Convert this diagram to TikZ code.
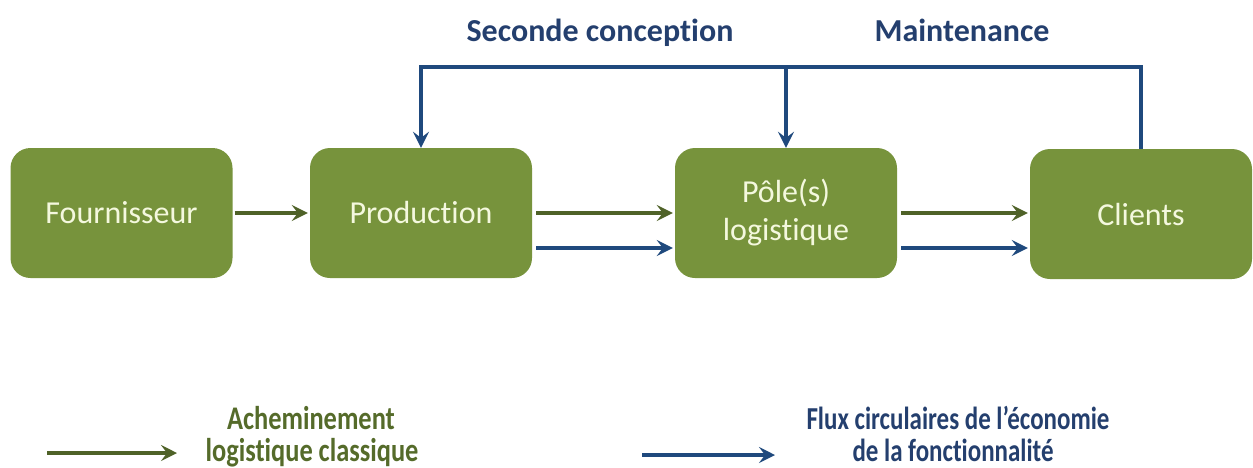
\documentclass[tikz,border=0pt]{standalone}
\usepackage{fontspec}
\setmainfont[Ligatures={TeX,NoCommon}]{Carlito}
\newfontfamily\legendfont[Ligatures={TeX,NoCommon},FakeStretch=0.8]{Carlito}
\newfontfamily\legendfontnarrow[Ligatures={TeX,NoCommon},FakeStretch=0.78]{Carlito}
\usetikzlibrary{arrows.meta,calc}
\definecolor{boxgreen}{HTML}{77933C}
\definecolor{boxtext}{HTML}{F4F8DE}
\definecolor{flowgreen}{HTML}{4F6228}
\definecolor{flowblue}{HTML}{1F497D}
\definecolor{labelblue}{HTML}{243F6E}
\definecolor{legendgreen}{HTML}{556B2A}
\tikzset{
  stage/.style={draw=none, fill=boxgreen, rounded corners=20pt,
    minimum width=222pt, minimum height=130pt, text=boxtext,
    align=center, font=\fontsize{32}{38}\selectfont},
  greenflow/.style={draw=flowgreen, line width=4pt,
    -{Stealth[length=16pt,width=16pt,inset=6pt]}},
  blueflow/.style={draw=flowblue, line width=4pt,
    -{Stealth[length=16pt,width=16pt,inset=6pt]}},
  toplabel/.style={anchor=base, text=labelblue, font=\fontsize{32}{38}\selectfont\bfseries},
  legendtext/.style={anchor=base, inner sep=0pt, font=\legendfont\fontsize{33}{38}\selectfont\bfseries},
  legendtextb/.style={anchor=base, inner sep=0pt, font=\legendfontnarrow\fontsize{32}{38}\selectfont\bfseries}
}
\begin{document}
\begin{tikzpicture}[x=1pt,y=-1pt]
  \useasboundingbox (0,0) rectangle (1253,467);

  % process stages
  \node[stage] (four) at (121.5,213) {Fournisseur};
  \node[stage] (prod) at (421,213) {Production};
  \node[stage] (pole) at (786,213) {Pôle(s)\\logistique};
  \node[stage] (cli)  at (1141,214) {Clients};

  % classic logistic flow
  \draw[greenflow, shorten <=2pt, shorten >=2pt] (four.east) -- (prod.west);
  \draw[greenflow, shorten <=4pt, shorten >=2pt] (prod.east) -- (pole.west);
  \draw[greenflow, shorten <=4pt, shorten >=2pt] (pole.east) -- (cli.west |- pole.east);

  % circular flows
  \draw[blueflow, shorten <=4pt, shorten >=2pt] ($(prod.east)+(0,35)$) -- ($(pole.west)+(0,35)$);
  \draw[blueflow, shorten <=4pt, shorten >=2pt] ($(pole.east)+(0,35)$) -- ($(cli.west |- pole.east)+(0,35)$);

  % return loop above the stages
  \coordinate (loop) at (0,67);
  \draw[blueflow] (cli.north) -- (cli.north |- loop) -- (prod.north |- loop) -- (prod.north);
  \draw[blueflow] (pole.north |- loop) -- (pole.north);

  \node[toplabel] (seconde) at (600,41) {Seconde conception};
  \node[toplabel] (maint) at (962,41) {Maintenance};

  % legend
  \coordinate (lg1) at (47,453);
  \coordinate (lg2) at (177,453);
  \draw[greenflow] (lg1) -- (lg2);
  \node[legendtext, text=legendgreen] (leg1a) at (311,429) {Acheminement};
  \node[legendtext, text=legendgreen] (leg1b) at (312,461) {logistique classique};

  \coordinate (lb1) at (642,455);
  \coordinate (lb2) at (775,455);
  \draw[blueflow] (lb1) -- (lb2);
  \node[legendtextb, text=labelblue] (leg2a) at (958,429) {Flux circulaires de l’économie};
  \node[legendtextb, text=labelblue] (leg2b) at (953,461) {de la fonctionnalité};
\end{tikzpicture}
\end{document}
